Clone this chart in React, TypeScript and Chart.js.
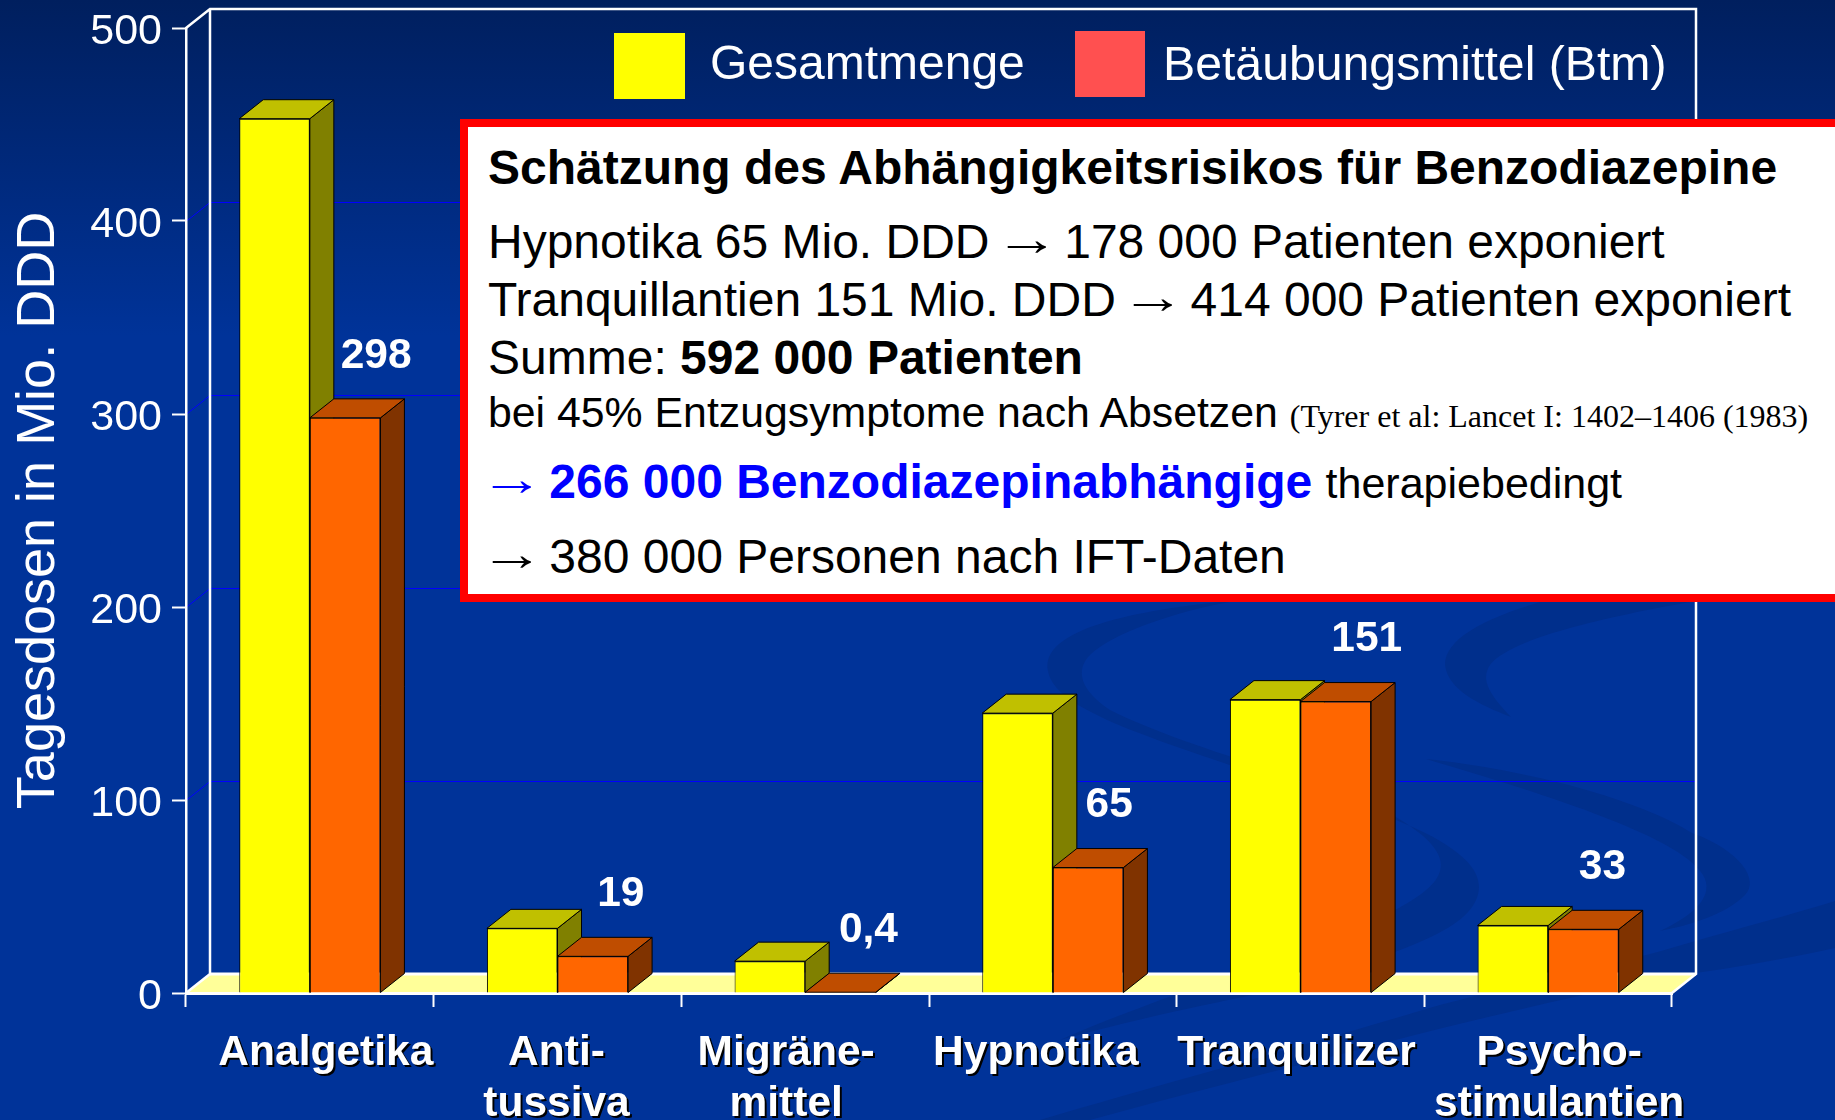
import React, { useEffect, useRef } from "react";
import { Chart, registerables } from "chart.js";

Chart.register(...registerables);

const categories: (string | string[])[] = [
  "Analgetika",
  ["Anti-", "tussiva"],
  ["Migräne-", "mittel"],
  "Hypnotika",
  "Tranquilizer",
  ["Psycho-", "stimulantien"],
];
const gesamtmenge = [453, 33.5, 16.5, 145, 152, 35];
const betaeubungsmittel = [298, 19, 0.4, 65, 151, 33];
const legendLabels = ["Gesamtmenge", "Betäubungsmittel (Btm)"];
const axisTitle = "Tagesdosen in Mio. DDD";

const W = 1835;
const H = 1120;
const DX = 24;
const DY = 19;
const FONT = '"Liberation Sans", Arial, sans-serif';
const labelNudgeX = [31, 28, 28, 21, 31, 19];
const tickNudgeX = [16, -1, -19, -17, -4, 11];

function poly(ctx: CanvasRenderingContext2D, pts: number[][], fill: string, stroke = "#000") {
  ctx.beginPath();
  pts.forEach(([x, y], i) => (i ? ctx.lineTo(x, y) : ctx.moveTo(x, y)));
  ctx.closePath();
  ctx.fillStyle = fill;
  ctx.fill();
  if (stroke) {
    ctx.strokeStyle = stroke;
    ctx.lineWidth = 1;
    ctx.stroke();
  }
}

function swooshes(ctx: CanvasRenderingContext2D) {
  ctx.fillStyle = "#002f8c";
  // left ring, upper arc
  ctx.beginPath();
  ctx.moveTo(1240, 600);
  ctx.bezierCurveTo(1130, 610, 1040, 630, 1048, 671);
  ctx.bezierCurveTo(1055, 715, 1180, 745, 1300, 790);
  ctx.bezierCurveTo(1400, 815, 1480, 850, 1479, 887);
  ctx.bezierCurveTo(1478, 930, 1400, 950, 1300, 985);
  ctx.bezierCurveTo(1230, 1000, 1150, 1015, 1060, 1040);
  ctx.bezierCurveTo(1150, 1000, 1310, 950, 1399, 908);
  ctx.bezierCurveTo(1440, 885, 1470, 860, 1394, 816);
  ctx.bezierCurveTo(1320, 780, 1190, 750, 1110, 710);
  ctx.bezierCurveTo(1080, 690, 1075, 670, 1090, 655);
  ctx.bezierCurveTo(1110, 635, 1170, 612, 1240, 600);
  ctx.fill();
  // right ring, upper arc
  ctx.beginPath();
  ctx.moveTo(1690, 602);
  ctx.lineTo(1540, 602);
  ctx.bezierCurveTo(1480, 620, 1445, 640, 1445, 665);
  ctx.bezierCurveTo(1448, 690, 1480, 705, 1511, 717);
  ctx.bezierCurveTo(1490, 695, 1480, 680, 1490, 665);
  ctx.bezierCurveTo(1510, 640, 1590, 620, 1690, 602);
  ctx.fill();
  // right ring, lower lobe
  ctx.beginPath();
  ctx.moveTo(1426, 759);
  ctx.bezierCurveTo(1530, 770, 1640, 800, 1692, 833);
  ctx.bezierCurveTo(1740, 850, 1760, 880, 1745, 895);
  ctx.bezierCurveTo(1725, 915, 1690, 925, 1660, 931);
  ctx.bezierCurveTo(1695, 915, 1715, 895, 1703, 875);
  ctx.bezierCurveTo(1680, 835, 1530, 790, 1426, 759);
  ctx.fill();
  // lower sweeping band
  ctx.beginPath();
  ctx.moveTo(1835, 901);
  ctx.bezierCurveTo(1790, 915, 1740, 928, 1692, 942);
  ctx.bezierCurveTo(1600, 970, 1510, 985, 1426, 1009);
  ctx.bezierCurveTo(1290, 1050, 1140, 1090, 1040, 1120);
  ctx.lineTo(1090, 1120);
  ctx.bezierCurveTo(1180, 1095, 1280, 1070, 1373, 1046);
  ctx.bezierCurveTo(1470, 1020, 1560, 1000, 1655, 979);
  ctx.bezierCurveTo(1720, 970, 1780, 960, 1835, 948);
  ctx.closePath();
  ctx.fill();
}

const scenePlugin = {
  id: "scene",
  beforeDraw(chart: any) {
    const { ctx, chartArea: a, scales } = chart;
    ctx.save();
    const g = ctx.createLinearGradient(0, 0, 0, H);
    g.addColorStop(0, "#001f5e");
    g.addColorStop(0.3, "#003399");
    g.addColorStop(1, "#003399");
    ctx.fillStyle = g;
    ctx.fillRect(0, 0, W, H);
    swooshes(ctx);

    const y = scales.y;
    poly(
      ctx,
      [
        [a.left, a.bottom],
        [a.left + DX, a.bottom - DY],
        [a.right + DX, a.bottom - DY],
        [a.right, a.bottom],
      ],
      "#ffff99",
      ""
    );
    ctx.strokeStyle = "#0000ff";
    ctx.lineWidth = 1;
    y.ticks.forEach((t: any) => {
      if (t.value === 0 || t.value === 500) return;
      const py = Math.round(y.getPixelForValue(t.value)) + 0.5;
      ctx.beginPath();
      ctx.moveTo(a.left, py);
      ctx.lineTo(a.left + DX, py - DY);
      ctx.lineTo(a.right + DX, py - DY);
      ctx.stroke();
    });
    ctx.strokeStyle = "#ffffff";
    ctx.lineWidth = 2.5;
    ctx.beginPath();
    ctx.moveTo(a.left, a.top);
    ctx.lineTo(a.left + DX, a.top - DY);
    ctx.lineTo(a.right + DX, a.top - DY);
    ctx.lineTo(a.right + DX, a.bottom - DY);
    ctx.lineTo(a.right, a.bottom);
    ctx.moveTo(a.left, a.bottom);
    ctx.lineTo(a.left + DX, a.bottom - DY);
    ctx.moveTo(a.left + DX, a.top - DY);
    ctx.lineTo(a.left + DX, a.bottom - DY);
    ctx.stroke();
    ctx.lineWidth = 3;
    ctx.beginPath();
    ctx.moveTo(a.left + DX, a.bottom - DY);
    ctx.lineTo(a.right + DX, a.bottom - DY);
    ctx.stroke();
    ctx.restore();
  },
  afterLayout(chart: any) {
    const s = chart.scales.x;
    if (s.__wrapped) return;
    s.__wrapped = true;
    const draw = s.drawLabels.bind(s);
    s.drawLabels = (area: any) => {
      const ctx = chart.ctx;
      const items = s.getLabelItems(area);
      items.forEach((it: any, i: number) => {
        if (!it.__n) {
          it.options.translation[0] += tickNudgeX[i];
          it.__n = true;
        }
      });
      ctx.save();
      ctx.shadowColor = "#000";
      ctx.shadowOffsetX = 2;
      ctx.shadowOffsetY = 2;
      ctx.shadowBlur = 0;
      draw(area);
      ctx.restore();
    };
  },
  beforeDatasetsDraw(chart: any) {
    const { ctx } = chart;
    const faces = [
      ["#c0c000", "#808000"],
      ["#bf4d00", "#803300"],
    ];
    ctx.save();
    categories.forEach((_, i) => {
      [0, 1].forEach((d) => {
        const b = chart.getDatasetMeta(d).data[i];
        const l = b.x - b.width / 2;
        const r = b.x + b.width / 2;
        poly(
          ctx,
          [
            [r, b.y],
            [r + DX, b.y - DY],
            [r + DX, b.base - DY],
            [r, b.base],
          ],
          faces[d][1]
        );
        poly(
          ctx,
          [
            [l, b.y],
            [l + DX, b.y - DY],
            [r + DX, b.y - DY],
            [r, b.y],
          ],
          faces[d][0]
        );
      });
    });
    ctx.restore();
  },
  afterDatasetsDraw(chart: any) {
    const { ctx } = chart;
    ctx.save();
    ctx.font = `bold 42.5px ${FONT}`;
    ctx.fillStyle = "#ffffff";
    ctx.textAlign = "center";
    ctx.textBaseline = "middle";
    const meta = chart.getDatasetMeta(1);
    betaeubungsmittel.forEach((v, i) => {
      const b = meta.data[i];
      ctx.fillText(String(v).replace(".", ","), b.x + labelNudgeX[i], b.y - 62);
    });
    ctx.restore();
  },
};

const Arrow = () => (
  <span
    style={{
      display: "inline-block",
      position: "relative",
      top: -3,
      transform: "scaleX(1.35)",
      fontWeight: "normal",
    }}
  >
    →
  </span>
);

const line = (top: number, children: React.ReactNode, extra: React.CSSProperties = {}) => (
  <div
    style={{
      position: "absolute",
      left: 488,
      top,
      whiteSpace: "nowrap",
      fontSize: 48,
      lineHeight: "56px",
      color: "#000",
      ...extra,
    }}
  >
    {children}
  </div>
);

export default function App() {
  const ref = useRef<HTMLCanvasElement>(null);
  useEffect(() => {
    const chart = new Chart(ref.current!, {
      type: "bar",
      data: {
        labels: categories as any,
        datasets: [
          {
            label: legendLabels[0],
            data: gesamtmenge,
            backgroundColor: "#ffff00",
            borderColor: "#000",
            borderWidth: 1,
          },
          {
            label: legendLabels[1],
            data: betaeubungsmittel,
            backgroundColor: "#ff6600",
            borderColor: "#000",
            borderWidth: 1,
          },
        ],
      },
      options: {
        responsive: false,
        animation: false,
        layout: { padding: { top: 28, right: 163, left: 0, bottom: 0 } },
        plugins: { legend: { display: false }, tooltip: { enabled: false } },
        datasets: { bar: { categoryPercentage: 0.57, barPercentage: 1 } },
        scales: {
          x: {
            grid: {
              drawOnChartArea: false,
              color: "#fff",
              tickColor: "#fff",
              tickLength: 14,
              tickWidth: 2,
              offset: true,
            },
            border: { color: "#fff", width: 3 },
            ticks: {
              color: "#fff",
              autoSkip: false,
              maxRotation: 0,
              padding: 21,
              font: { family: FONT, size: 42.5, weight: "bold", lineHeight: 1.2 },
            },
            afterFit: (s: any) => {
              s.height = H - 993;
            },
          },
          y: {
            min: 0,
            max: 500,
            ticks: {
              stepSize: 100,
              color: "#fff",
              padding: 10,
              labelOffset: 4,
              font: { family: FONT, size: 43 },
            },
            grid: {
              drawOnChartArea: false,
              color: "#fff",
              tickColor: "#fff",
              tickLength: 14,
              tickWidth: 2,
            },
            border: { color: "#fff", width: 2.5 },
            title: {
              display: true,
              text: axisTitle,
              color: "#fff",
              font: { family: FONT, size: 54 },
              padding: { top: 7, bottom: 0 },
            },
            afterFit: (s: any) => {
              s.width = 186;
              s.paddingTop = 0;
              s.paddingBottom = 0;
            },
          },
        },
      } as any,
      plugins: [scenePlugin as any],
    });
    return () => chart.destroy();
  }, []);

  return (
    <div
      style={{
        position: "absolute",
        left: 0,
        top: 0,
        width: W,
        height: H,
        overflow: "hidden",
        fontFamily: FONT,
      }}
    >
      <canvas ref={ref} width={W} height={H} style={{ display: "block" }} />
      <div style={{ position: "absolute", left: 614, top: 33, width: 71, height: 66, background: "#ffff00" }} />
      <div style={{ position: "absolute", left: 1075, top: 31, width: 70, height: 66, background: "#ff5050" }} />
      <div style={{ position: "absolute", left: 710, top: 33, fontSize: 48, lineHeight: "60px", color: "#fff", whiteSpace: "nowrap" }}>
        {legendLabels[0]}
      </div>
      <div style={{ position: "absolute", left: 1163, top: 33, fontSize: 48.2, lineHeight: "60px", color: "#fff", whiteSpace: "nowrap" }}>
        {legendLabels[1]}
      </div>
      <div
        style={{
          position: "absolute",
          left: 460,
          top: 119,
          width: 1400,
          height: 483,
          boxSizing: "border-box",
          border: "8px solid #ff0000",
          background: "#fff",
        }}
      />
      {line(140, <b>Schätzung des Abhängigkeitsrisikos für Benzodiazepine</b>)}
      {line(214, <>Hypnotika 65 Mio. DDD <Arrow /> 178 000 Patienten exponiert</>)}
      {line(272, <>Tranquillantien 151 Mio. DDD <Arrow /> 414 000 Patienten exponiert</>)}
      {line(330, <>Summe: <b>592 000 Patienten</b></>)}
      {line(384, <>bei 45% Entzugsymptome nach Absetzen <span style={{ fontFamily: '"Liberation Serif", serif', fontSize: 32 }}>(Tyrer et al: Lancet I: 1402–1406 (1983)</span></>, { fontSize: 42.8 })}
      {line(454, <><span style={{ color: "#0000ff", fontWeight: "bold" }}><Arrow /> 266 000 Benzodiazepinabhängige</span> <span style={{ fontSize: 43 }}>therapiebedingt</span></>)}
      {line(529, <><Arrow /> 380 000 Personen nach IFT-Daten</>)}
    </div>
  );
}
